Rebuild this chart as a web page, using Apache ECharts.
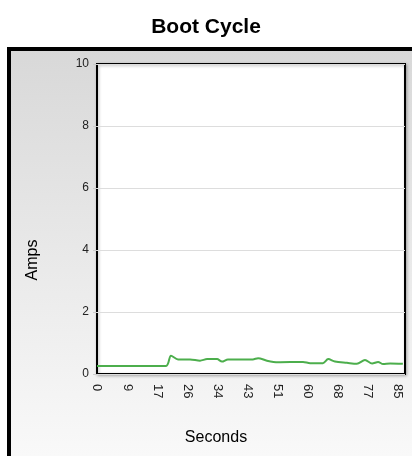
<!DOCTYPE html>
<html>
<head>
<meta charset="utf-8">
<script src="https://cdn.jsdelivr.net/npm/echarts@6/dist/echarts.min.js"></script>
<style>
  html, body { margin: 0; padding: 0; background: #fff; }
  #chart { width: 412px; height: 456px; }
</style>
</head>
<body>
<div id="chart"></div>
<script>
// readings
const seconds = [0, 19.5, 20.9, 22.9, 26.3, 29.1, 31.1, 33.9, 35.3, 37, 44, 45.5, 48, 51.1, 58.2, 60.2, 63.8, 65.3, 67.2, 70.6, 73.4, 75.7, 77.7, 79.4, 80.8, 82.8, 86.4]
const amps = [0.26, 0.26, 0.59, 0.47, 0.47, 0.43, 0.48, 0.48, 0.40, 0.47, 0.47, 0.51, 0.43, 0.38, 0.39, 0.35, 0.35, 0.48, 0.40, 0.36, 0.33, 0.45, 0.34, 0.39, 0.32, 0.34, 0.33]
const xTicks = [0, 8.5, 17, 25.5, 34, 42.5, 51, 59.5, 68, 76.5, 85]

const chart = echarts.init(document.getElementById('chart'))

chart.setOption({
  animation: false,
  textStyle: { fontFamily: 'Liberation Sans, Arial, sans-serif' },
  graphic: [{
    type: 'rect',
    z: -10,
    shape: { x: 9, y: 49, width: 430, height: 430 },
    style: {
      fill: new echarts.graphic.LinearGradient(0, 0, 0, 1, [
        { offset: 0, color: '#d8d8d8' },
        { offset: 1, color: '#fbfbfb' }
      ]),
      stroke: '#000',
      lineWidth: 4
    }
  }],
  title: {
    text: 'Boot Cycle',
    left: 'center',
    top: 12,
    textStyle: { fontSize: 21, fontWeight: 'bold', color: '#000' }
  },
  grid: {
    left: 97, top: 64, right: 7, bottom: 82,
    show: true,
    backgroundColor: '#fff',
    borderColor: '#000',
    borderWidth: 2,
    shadowColor: 'rgba(0,0,0,0.25)',
    shadowBlur: 3,
    shadowOffsetX: 1,
    shadowOffsetY: 1
  },
  xAxis: {
    type: 'value',
    min: 0,
    max: 87,
    name: 'Seconds',
    nameLocation: 'middle',
    nameGap: 56,
    nameTextStyle: { fontSize: 16, color: '#000', padding: [0, 70, 0, 0] },
    axisLine: { show: false },
    axisTick: { show: false },
    splitLine: { show: false },
    axisLabel: {
      customValues: xTicks,
      rotate: -90,
      fontSize: 13,
      color: '#222',
      margin: 10,
      formatter: v => String(Math.round(v))
    }
  },
  yAxis: {
    type: 'value',
    min: 0,
    max: 10,
    interval: 2,
    name: 'Amps',
    nameLocation: 'middle',
    nameGap: 56,
    nameRotate: 90,
    nameTextStyle: { fontSize: 16, color: '#000', padding: [0, 82, 0, 0] },
    axisLine: { show: false },
    axisTick: { show: true, length: 4, lineStyle: { color: '#ccc' } },
    splitLine: { lineStyle: { color: '#ddd', width: 1 } },
    axisLabel: { fontSize: 12, color: '#222', margin: 8 }
  },
  series: [{
    type: 'line',
    data: seconds.map((s, i) => [s, amps[i]]),
    showSymbol: false,
    smooth: 0.3,
    lineStyle: { color: '#4cae4c', width: 2 },
    itemStyle: { color: '#4cae4c' }
  }]
})
</script>
</body>
</html>
